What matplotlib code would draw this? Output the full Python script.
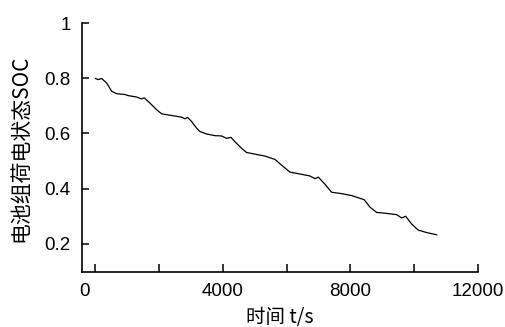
import matplotlib
matplotlib.use("Agg")
import matplotlib.pyplot as plt
from matplotlib.transforms import ScaledTranslation

# data (time in s, SOC)
time_s = [0, 88, 195, 351, 508, 665, 925, 1029, 1292, 1449, 1531, 1710, 1920, 2077,
          2390, 2704, 2808, 2892, 3018, 3175, 3278, 3488, 3749, 3959, 4116, 4251,
          4376, 4586, 4743, 5004, 5318, 5631, 5841, 6101, 6468, 6729, 6886, 6990,
          7200, 7410, 7723, 8037, 8244, 8432, 8611, 8821, 9082, 9449, 9605, 9731,
          9919, 10126, 10390, 10703]
soc = [0.799, 0.795, 0.799, 0.783, 0.753, 0.744, 0.741, 0.737, 0.732, 0.725, 0.729,
       0.710, 0.686, 0.671, 0.665, 0.659, 0.653, 0.658, 0.643, 0.619, 0.607, 0.598,
       0.592, 0.591, 0.582, 0.586, 0.570, 0.546, 0.531, 0.525, 0.518, 0.506, 0.485,
       0.460, 0.452, 0.446, 0.436, 0.442, 0.416, 0.387, 0.382, 0.375, 0.367, 0.360,
       0.333, 0.314, 0.311, 0.306, 0.294, 0.300, 0.272, 0.250, 0.241, 0.233]

x_ticks = [0, 2000, 4000, 6000, 8000, 10000, 12000]
x_ticklabels = ["0", "", "4000", "", "8000", "", "12000"]
y_ticks = [0.2, 0.4, 0.6, 0.8, 1.0]
y_ticklabels = ["0.2", "0.4", "0.6", "0.8", "1"]

cjk = ["Noto Sans CJK SC", "DejaVu Sans"]
num_font = "Liberation Sans"

fig = plt.figure(figsize=(5.06, 3.27), dpi=100)
ax = fig.add_axes([81.7 / 506, 1 - 271.5 / 327, (478 - 81.7) / 506, (271.5 - 23) / 327])

ax.plot(time_s, soc, color="black", linewidth=0.9)

ax.set_xlim(-430, 12000)
ax.set_ylim(0.1, 1.0)
ax.set_xticks(x_ticks)
ax.set_xticklabels(x_ticklabels, fontfamily=num_font, fontsize=13.5)
ax.set_yticks(y_ticks)
ax.set_yticklabels(y_ticklabels, fontfamily=num_font, fontsize=13.5)

ax.tick_params(axis="x", direction="in", length=6, width=1.1, pad=8)
ax.tick_params(axis="y", direction="in", length=5, width=1.1, pad=8)

# shift the "0" label slightly left as in the reference
lbl0 = ax.get_xticklabels()[0]
lbl0.set_transform(lbl0.get_transform() + ScaledTranslation(-11 / 100, 0, fig.dpi_scale_trans))

for s in ["top", "right"]:
    ax.spines[s].set_visible(False)
for s in ["left", "bottom"]:
    ax.spines[s].set_linewidth(1.2)

ax.set_xlabel("时间 t/s", fontfamily=cjk, fontsize=14, labelpad=5)
ax.set_ylabel("电池组荷电状态SOC", fontfamily=cjk, fontsize=15)
ax.yaxis.set_label_coords(-0.128, (271.5 - 148) / (271.5 - 23))

fig.savefig("out.png", dpi=100)
